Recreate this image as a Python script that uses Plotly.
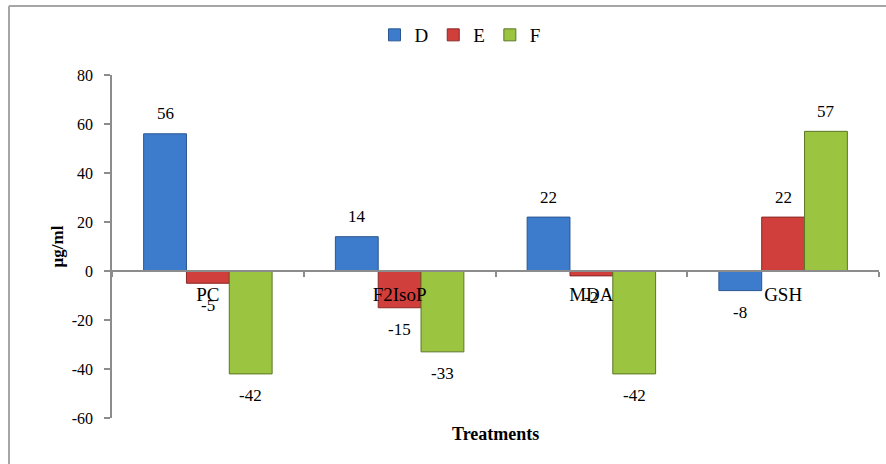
import plotly.graph_objects as go

# Treatment categories and the D / E / F series (µg/ml)
categories = ["PC", "F2IsoP", "MDA", "GSH"]
series_names = ["D", "E", "F"]
values_d = [56, 14, 22, -8]
values_e = [-5, -15, -2, 22]
values_f = [-42, -33, -42, 57]
y_ticks = [-60, -40, -20, 0, 20, 40, 60, 80]
y_tick_text = ["-60", "-40", "-20", "0", "20", "40", "60", "80"]

fills = ["#3D7CCD", "#D03F3B", "#9BC440"]
edges = ["#2A5690", "#8A2925", "#5B7626"]

SERIF = "Liberation Serif, Times New Roman, serif"
Y_MIN, Y_MAX = -60, 80
BARGAP = 0.33

# plot-area geometry in pixels (used for paper-coordinate placement)
ML, MR, MT, MB = 112, 7, 75, 46
W, H = 886, 464
PW, PH = W - ML - MR, H - MT - MB


def px_x(p):
    return (p - ML) / PW


def px_y(p):
    return (H - MB - p) / PH


fig = go.Figure()
all_values = [values_d, values_e, values_f]
for name, vals, fc, ec in zip(series_names, all_values, fills, edges):
    fig.add_trace(go.Bar(
        name=name, x=categories, y=vals,
        marker=dict(color=fc, line=dict(color=ec, width=1)),
    ))

# value labels, offset from each bar end
bar_w = (1 - BARGAP) / len(series_names)
annotations = []
for k, vals in enumerate(all_values):
    for i, v in enumerate(vals):
        annotations.append(dict(
            x=i + (k - 1) * bar_w, y=v, xref="x", yref="y",
            text=str(v), showarrow=False,
            yshift=20 if v >= 0 else -22,
            font=dict(family=SERIF, size=17, color="#000"),
        ))

annotations.append(dict(
    x=px_x(495), y=px_y(434), xref="paper", yref="paper",
    xanchor="center", yanchor="middle",
    text="<b>Treatments</b>", showarrow=False,
    font=dict(family=SERIF, size=18, color="#000"),
))

fig.update_layout(
    width=W, height=H,
    margin=dict(l=ML, r=MR, t=MT, b=MB),
    paper_bgcolor="white", plot_bgcolor="white",
    barmode="group", bargap=BARGAP, bargroupgap=0,
    showlegend=True,
    legend=dict(
        orientation="h", x=px_x(460), xanchor="center",
        y=px_y(35), yanchor="middle",
        font=dict(family=SERIF, size=19, color="#000"),
        itemwidth=30, traceorder="normal",
    ),
    xaxis=dict(
        type="category", range=[-0.5, 3.5],
        anchor="free", position=(0 - Y_MIN) / (Y_MAX - Y_MIN),
        showline=True, linecolor="#8C8C8C", linewidth=1.5,
        ticks="outside", tickson="boundaries", ticklen=5,
        tickcolor="#8C8C8C", tickwidth=1.5,
        showgrid=False, zeroline=False,
        ticklabelstandoff=6,
        tickfont=dict(family=SERIF, size=19, color="#000"),
    ),
    yaxis=dict(
        range=[Y_MIN, Y_MAX], tickvals=y_ticks, ticktext=y_tick_text,
        showline=True, linecolor="#8C8C8C", linewidth=1.5,
        ticks="outside", ticklen=6, tickcolor="#8C8C8C", tickwidth=1.5,
        showgrid=False, zeroline=False,
        ticklabelstandoff=8,
        tickfont=dict(family=SERIF, size=16, color="#000"),
        title=dict(text="<b>µg/ml</b>", standoff=4,
                   font=dict(family=SERIF, size=17, color="#000")),
    ),
    annotations=annotations,
    shapes=[
        # chart frame (top and left edges)
        dict(type="line", xref="paper", yref="paper",
             x0=px_x(9), x1=px_x(890), y0=px_y(6), y1=px_y(6),
             line=dict(color="#A6A6A6", width=2)),
        dict(type="line", xref="paper", yref="paper",
             x0=px_x(9), x1=px_x(9), y0=px_y(6), y1=px_y(470),
             line=dict(color="#A6A6A6", width=2)),
    ],
)

fig.write_html("out.html")
